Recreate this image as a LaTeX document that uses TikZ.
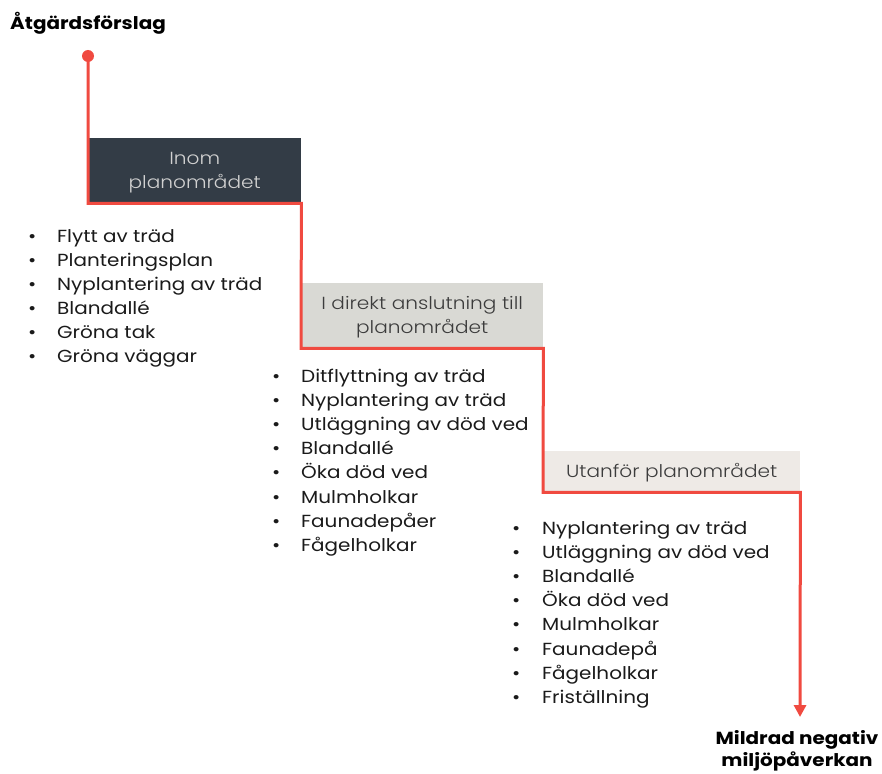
\documentclass[tikz,border=0pt]{standalone}
\usepackage{fontspec}
\setmainfont{Poppins}[FakeStretch=1.14]
\newfontfamily\lightfont{Poppins Light}[FakeStretch=1.15]
\usetikzlibrary{arrows.meta}
\definecolor{redline}{HTML}{F04A40}
\definecolor{darkbox}{HTML}{333C46}
\definecolor{midbox}{HTML}{D9D9D4}
\definecolor{lightbox}{HTML}{EEEAE6}
\definecolor{txt}{HTML}{1A1A1A}
\tikzset{
  stagebox/.style={anchor=north west, inner sep=0pt},
  stagetext/.style={inner sep=0pt, align=center, font=\lightfont\fontsize{17.5}{24}\selectfont},
  item/.style={anchor=west, inner sep=0pt, text height=13pt, text depth=4pt, text=txt, font=\fontsize{17.5}{20}\selectfont},
  heading/.style={inner sep=0pt, align=center, text=black, font=\bfseries\fontsize{17.5}{21.5}\selectfont},
  flow/.style={draw=redline, line width=3pt, line join=miter}
}
\begin{document}
\begin{tikzpicture}[x=1pt,y=-1pt]
\useasboundingbox (0,0) rectangle (882,773);
\node[heading, anchor=west] (title) at (10,23) {Åtgärdsförslag};
\node[stagebox, fill=darkbox, minimum width=213pt, minimum height=65pt] (b1) at (88,138) {};
\node[stagebox, fill=midbox, minimum width=242pt, minimum height=65pt] (b2) at (301,283) {};
\node[stagebox, fill=lightbox, minimum width=257pt, minimum height=41pt] (b3) at (543,451) {};
\node[stagetext, text=white!82!black] (t1) at ([yshift=-1.5pt]b1.center) {Inom\\planområdet};
\node[stagetext, text=txt!85!white] (t2) at ([yshift=-1.5pt]b2.center) {I direkt anslutning till\\planområdet};
\node[stagetext, text=txt!85!white] (t3) at ([yshift=-1pt]b3.center) {Utanför planområdet};
\fill[redline] (88,56) circle (6pt);
\coordinate (dot) at (88,56);
\coordinate (end) at (800,717);
\draw[flow, -{Triangle[width=12pt,length=12pt]}] (dot) -- (b1.south west) -- (b1.south east) -- (b2.south west) -- (b2.south east) -- (b3.south west) -- (b3.south east) -- (end);
\node[heading] (goal) at (797,751) {Mildrad negativ\\miljöpåverkan};
\foreach \t [count=\i] in {Flytt av träd, Planteringsplan, Nyplantering av träd, Blandallé, Gröna tak, Gröna väggar}
  \node[item] (l1-\i) at (28,{237.5+24*(\i-1)}) {\makebox[29pt][l]{•}\t};
\foreach \t [count=\i] in {Ditflyttning av träd, Nyplantering av träd, Utläggning av död ved, Blandallé, Öka död ved, Mulmholkar, Faunadepåer, Fågelholkar}
  \node[item] (l2-\i) at (272,{378+24.1*(\i-1)}) {\makebox[29pt][l]{•}\t};
\foreach \t [count=\i] in {Nyplantering av träd, Utläggning av död ved, Blandallé, Öka död ved, Mulmholkar, Faunadepå, Fågelholkar, Friställning}
  \node[item] (l3-\i) at (512,{529.5+24.2*(\i-1)}) {\makebox[30pt][l]{•}\t};
\end{tikzpicture}
\end{document}
